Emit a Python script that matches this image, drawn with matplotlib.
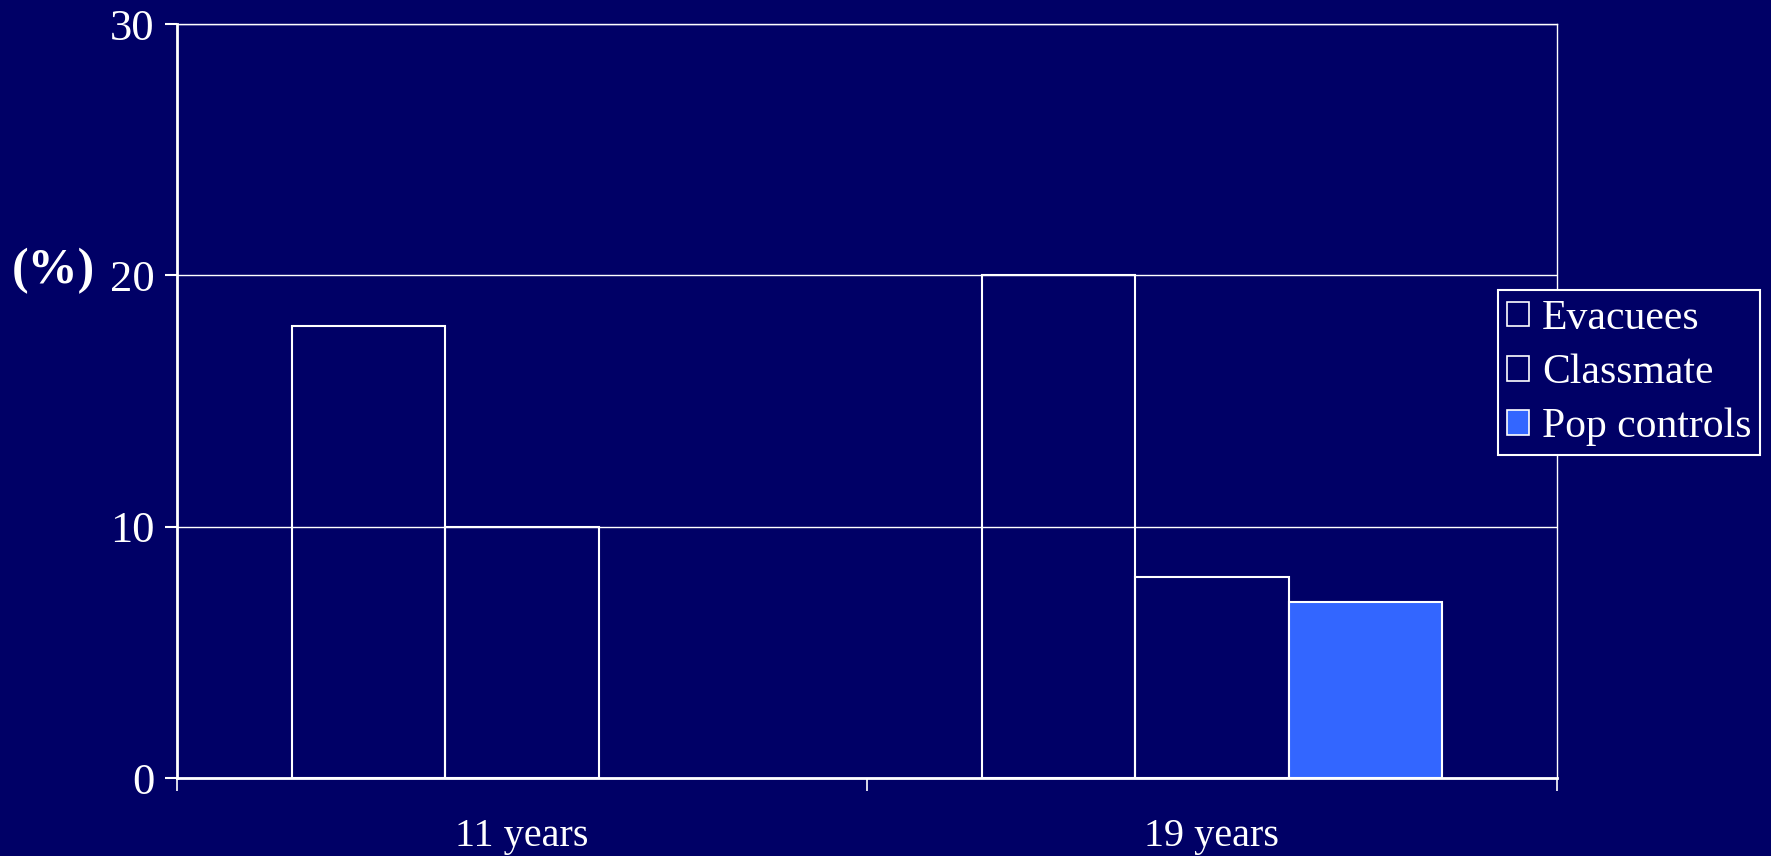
import matplotlib
matplotlib.use("Agg")
import matplotlib.pyplot as plt
import numpy as np
from matplotlib.patches import Patch

categories = ["11 years", "19 years"]
series = ["Evacuees", "Classmate", "Pop controls"]
evacuees = [18, 20]
classmate = [10, 8]
pop_controls = [0, 7]
yticks = [0, 10, 20, 30]

BG = "#000066"
BLUE = "#3366FF"
plt.rcParams['font.family'] = ['Liberation Serif', 'DejaVu Serif']

fig = plt.figure(figsize=(17.71, 8.56), dpi=100, facecolor=BG)
ax = fig.add_axes([177/1771, 1-778/856, (1557-177)/1771, (778-24)/856])
ax.set_facecolor(BG)

x = np.arange(len(categories))
bw = 1/4.5
values = [evacuees, classmate, pop_controls]
faces = ["none", "none", BLUE]
for i, (vals, fc) in enumerate(zip(values, faces)):
    xs = x + (i - 1) * bw
    v = np.array(vals, dtype=float)
    mask = v > 0
    ax.bar(xs[mask], v[mask], width=bw, facecolor=fc, edgecolor="white",
           linewidth=1.5, zorder=3)

ax.set_xlim(-0.5, len(categories) - 0.5)
ax.set_ylim(0, 30)
ax.set_yticks(yticks)
ax.set_yticklabels([str(t) for t in yticks])
ax.yaxis.grid(True, color="white", linewidth=1.0, zorder=1)
ax.set_axisbelow(True)
ax.tick_params(axis="y", direction="out", length=9, width=1.5, colors="white",
               labelsize=32, pad=7)

ax.set_xticks(x)
ax.set_xticklabels(categories)
ax.set_xticks(np.arange(len(categories) + 1) - 0.5, minor=True)
ax.tick_params(axis="x", which="major", length=0, colors="white", labelsize=29, pad=29)
ax.tick_params(axis="x", which="minor", direction="out", length=9, width=1.2, colors="white")

for s in ["left", "bottom"]:
    ax.spines[s].set_color("white")
    ax.spines[s].set_linewidth(2)
for s in ["right", "top"]:
    ax.spines[s].set_color("white")
    ax.spines[s].set_linewidth(1.0)

fig.text(12/1771, 1-271/856, "(%)", color="white", fontsize=36, fontweight="bold",
         ha="left", va="center")

handles = [Patch(facecolor=BG, edgecolor="white", linewidth=1.2),
           Patch(facecolor=BG, edgecolor="white", linewidth=1.2),
           Patch(facecolor=BLUE, edgecolor="white", linewidth=1.2)]
leg = fig.legend(handles, series, loc="upper left",
                 bbox_to_anchor=(1498/1771, 1-290/856), bbox_transform=fig.transFigure,
                 fontsize=30, frameon=True, fancybox=False, framealpha=1,
                 facecolor=BG, edgecolor="white", labelcolor="white",
                 handlelength=0.53, handleheight=0.53, handletextpad=0.3,
                 labelspacing=0.38, borderpad=0.22, borderaxespad=0)
leg.get_frame().set_linewidth(1.5)

fig.savefig("out.png", dpi=100, facecolor=BG)
